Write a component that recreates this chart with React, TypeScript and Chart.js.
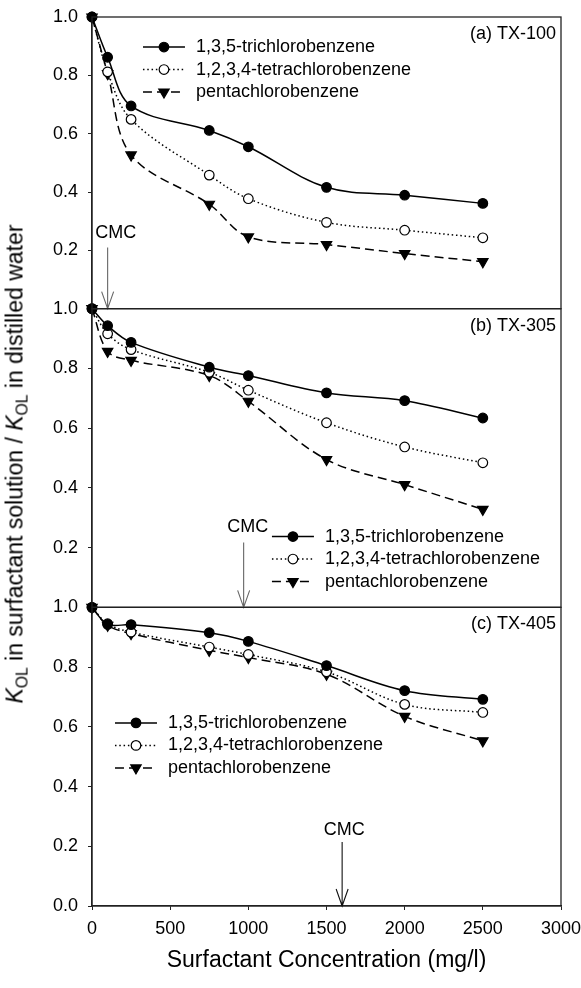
import React, { useEffect, useRef } from "react";
import { Chart, registerables } from "chart.js";

Chart.register(...registerables);

// ---------------- data ----------------
const concentrations = [0, 100, 250, 750, 1000, 1500, 2000, 2500];
const seriesNames = ["1,3,5-trichlorobenzene", "1,2,3,4-tetrachlorobenzene", "pentachlorobenzene"];
const panelNames = ["(a) TX-100", "(b) TX-305", "(c) TX-405"];

const tx100Tri = [1.0, 0.862, 0.695, 0.611, 0.555, 0.416, 0.389, 0.361];
const tx100Tetra = [1.0, 0.812, 0.649, 0.458, 0.377, 0.296, 0.269, 0.243];
const tx100Penta = [1.0, 0.806, 0.527, 0.358, 0.246, 0.22, 0.189, 0.161];

const tx305Tri = [1.0, 0.943, 0.887, 0.804, 0.776, 0.718, 0.692, 0.634];
const tx305Tetra = [1.0, 0.916, 0.863, 0.787, 0.727, 0.618, 0.537, 0.484];
const tx305Penta = [1.0, 0.857, 0.827, 0.776, 0.69, 0.495, 0.411, 0.328];

const tx405Tri = [1.0, 0.943, 0.942, 0.915, 0.886, 0.805, 0.721, 0.692];
const tx405Tetra = [1.0, 0.945, 0.917, 0.867, 0.842, 0.784, 0.675, 0.648];
const tx405Penta = [1.0, 0.94, 0.912, 0.856, 0.832, 0.776, 0.635, 0.553];

const cmcValues = [100, 970, 1600];
const xTickStep = 500;
const xMax = 3000;
const yTickStep = 0.2;

const FONT = "'Liberation Sans', Arial, Helvetica, sans-serif";

type SeriesStyle = {
  dash: number[];
  pointStyle: "circle" | "triangle";
  fill: string;
  radius: number;
  rotation: number;
};

const seriesStyles: SeriesStyle[] = [
  { dash: [], pointStyle: "circle", fill: "#000", radius: 4.8, rotation: 0 },
  { dash: [1.5, 2.8], pointStyle: "circle", fill: "#fff", radius: 4.8, rotation: 0 },
  { dash: [9, 5], pointStyle: "triangle", fill: "#000", radius: 6, rotation: 180 },
];

const panels = [
  {
    id: "yA",
    name: panelNames[0],
    series: [tx100Tri, tx100Tetra, tx100Penta],
    cmc: cmcValues[0],
    cmcArrowTop: 0.21,
    cmcText: 0.26,
    cmcTextShift: 8,
    legend: { x: 326, y: 0.897 },
    weight: 3,
    stackWeight: 292,
    hideZero: true,
  },
  {
    id: "yB",
    name: panelNames[1],
    series: [tx305Tri, tx305Tetra, tx305Penta],
    cmc: cmcValues[1],
    cmcArrowTop: 0.217,
    cmcText: 0.27,
    cmcTextShift: 4,
    legend: { x: 1151, y: 0.237 },
    weight: 2,
    stackWeight: 299,
    hideZero: true,
  },
  {
    id: "yC",
    name: panelNames[2],
    series: [tx405Tri, tx405Tetra, tx405Penta],
    cmc: cmcValues[2],
    cmcArrowTop: 0.214,
    cmcText: 0.254,
    cmcTextShift: 2,
    legend: { x: 147, y: 0.613 },
    weight: 1,
    stackWeight: 299,
    hideZero: false,
  },
];

function drawMarker(ctx: CanvasRenderingContext2D, x: number, y: number, s: SeriesStyle) {
  ctx.save();
  ctx.setLineDash([]);
  ctx.lineWidth = 1.2;
  ctx.strokeStyle = "#000";
  ctx.fillStyle = s.fill;
  ctx.beginPath();
  if (s.pointStyle === "circle") {
    ctx.arc(x, y, s.radius, 0, Math.PI * 2);
  } else {
    const r = s.radius;
    ctx.moveTo(x, y + r);
    ctx.lineTo(x - r * Math.sin(Math.PI / 3), y - r / 2);
    ctx.lineTo(x + r * Math.sin(Math.PI / 3), y - r / 2);
    ctx.closePath();
  }
  ctx.fill();
  ctx.stroke();
  ctx.restore();
}

const decorPlugin = {
  id: "panelDecor",
  afterDatasetsDraw(chart: any) {
    const ctx: CanvasRenderingContext2D = chart.ctx;
    const { left, right } = chart.chartArea;
    const xs = chart.scales.x;
    ctx.save();
    panels.forEach((p) => {
      const ys = chart.scales[p.id];
      // frame
      ctx.strokeStyle = "#222";
      ctx.lineWidth = 1.3;
      ctx.setLineDash([]);
      ctx.strokeRect(left, ys.top, right - left, ys.bottom - ys.top);

      // panel name
      ctx.fillStyle = "#000";
      ctx.font = `18px ${FONT}`;
      ctx.textAlign = "right";
      ctx.textBaseline = "middle";
      ctx.fillText(p.name, right - 5, ys.top + 17);

      // CMC arrow
      const ax = xs.getPixelForValue(p.cmc);
      const aTop = ys.getPixelForValue(p.cmcArrowTop);
      const aBot = ys.bottom;
      ctx.strokeStyle = p.id === "yC" ? "#111" : "#666";
      ctx.lineWidth = 1.1;
      ctx.beginPath();
      ctx.moveTo(ax, aTop);
      ctx.lineTo(ax, aBot);
      ctx.moveTo(ax - 6, aBot - 17);
      ctx.lineTo(ax, aBot);
      ctx.lineTo(ax + 6, aBot - 17);
      ctx.stroke();
      ctx.textAlign = "center";
      ctx.fillStyle = "#000";
      ctx.fillText("CMC", ax + p.cmcTextShift, ys.getPixelForValue(p.cmcText));

      // legend
      const lx = xs.getPixelForValue(p.legend.x);
      const ly = ys.getPixelForValue(p.legend.y);
      seriesNames.forEach((name, i) => {
        const st = seriesStyles[i];
        const y = ly + i * 22.5;
        ctx.strokeStyle = "#000";
        ctx.lineWidth = 1.5;
        ctx.setLineDash(st.dash);
        ctx.beginPath();
        ctx.moveTo(lx, y);
        ctx.lineTo(lx + 42, y);
        ctx.stroke();
        ctx.setLineDash([]);
        drawMarker(ctx, lx + 21, y, st);
        ctx.fillStyle = "#000";
        ctx.textAlign = "left";
        ctx.textBaseline = "middle";
        ctx.font = `18px ${FONT}`;
        ctx.fillText(name, lx + 53, y);
      });
    });
    ctx.restore();
  },
};

export default function App() {
  const canvasRef = useRef<HTMLCanvasElement | null>(null);

  useEffect(() => {
    if (!canvasRef.current) return;
    Chart.defaults.font.family = FONT;
    Chart.defaults.color = "#000";

    const datasets: any[] = [];
    panels.forEach((p) => {
      p.series.forEach((vals, i) => {
        const st = seriesStyles[i];
        datasets.push({
          label: `${p.name} ${seriesNames[i]}`,
          data: concentrations.map((c, k) => ({ x: c, y: vals[k] })),
          yAxisID: p.id,
          xAxisID: "x",
          borderColor: "#000",
          borderWidth: 1.5,
          borderDash: st.dash,
          backgroundColor: st.fill,
          pointBackgroundColor: st.fill,
          pointBorderColor: "#000",
          pointBorderWidth: 1.2,
          pointStyle: st.pointStyle,
          pointRadius: st.radius,
          pointRotation: st.rotation,
          tension: 0.35,
          fill: false,
          clip: false,
        });
      });
    });

    const scales: any = {
      x: {
        type: "linear",
        position: "bottom",
        min: 0,
        max: xMax,
        ticks: {
          stepSize: xTickStep,
          font: { size: 18 },
          padding: 8,
          color: "#000",
          maxRotation: 0,
          callback: (v: any) => String(v),
        },
        grid: { drawOnChartArea: false, drawTicks: true, tickLength: 4, color: "#222" },
        border: { display: true, color: "#222", width: 1.3 },
        title: {
          display: true,
          text: "Surfactant Concentration (mg/l)",
          font: { size: 23 },
          color: "#000",
          padding: { top: 0, bottom: 14 },
        },
        afterFit: (s: any) => {
          s.height = 82;
          s.paddingLeft = 0;
          s.paddingRight = 0;
        },
      },
    };
    panels.forEach((p) => {
      scales[p.id] = {
        type: "linear",
        position: "left",
        stack: "panels",
        stackWeight: p.stackWeight,
        weight: p.weight,
        min: 0,
        max: 1,
        ticks: {
          stepSize: yTickStep,
          font: { size: 18 },
          padding: 10,
          color: "#000",
          autoSkip: false,
          callback: (v: any) => (p.hideZero && Math.abs(v) < 1e-9 ? "" : Number(v).toFixed(1)),
        },
        grid: { drawOnChartArea: false, drawTicks: true, tickLength: 4, color: "#222" },
        border: { display: true, color: "#222", width: 1.3 },
        afterFit: (s: any) => {
          s.width = 92;
          s.paddingTop = 0;
          s.paddingBottom = 0;
        },
      };
    });

    const chart = new Chart(canvasRef.current, {
      type: "line",
      data: { datasets },
      options: {
        animation: false,
        responsive: false,
        devicePixelRatio: 1,
        layout: { padding: { top: 17, right: 20, bottom: 0, left: 0 } },
        plugins: { legend: { display: false }, tooltip: { enabled: false } },
        scales,
      },
      plugins: [decorPlugin],
    } as any);

    return () => chart.destroy();
  }, []);

  return (
    <div style={{ position: "absolute", left: 0, top: 0, width: 581, height: 988, background: "#fff" }}>
      <canvas ref={canvasRef} width={581} height={988} style={{ width: 581, height: 988, display: "block" }} />
      <div
        style={{
          position: "absolute",
          left: 15,
          top: 464,
          transform: "translate(-50%, -50%) rotate(-90deg)",
          whiteSpace: "nowrap",
          fontFamily: FONT,
          fontSize: 23,
          lineHeight: 1,
          color: "#000",
        }}
      >
        <i>K</i>
        <sub style={{ fontSize: "0.68em", verticalAlign: "-0.3em", lineHeight: 0 }}>OL</sub> in surfactant solution /{" "}
        <i>K</i>
        <sub style={{ fontSize: "0.68em", verticalAlign: "-0.3em", lineHeight: 0 }}>OL</sub> in distilled water
      </div>
    </div>
  );
}
